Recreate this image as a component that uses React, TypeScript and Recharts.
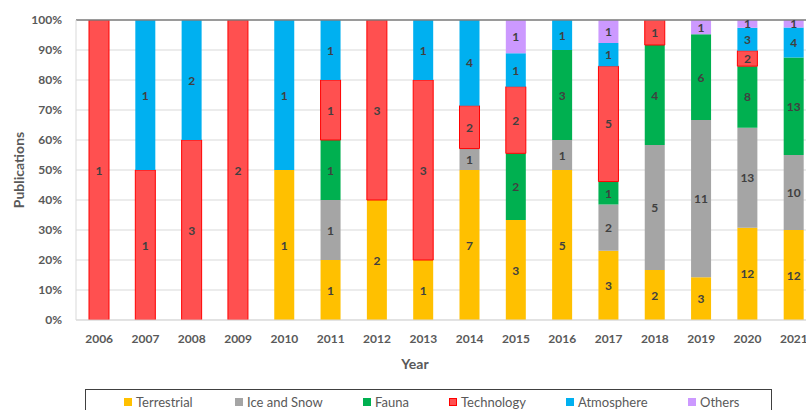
import React from "react";
import {
  BarChart,
  Bar,
  XAxis,
  YAxis,
  CartesianGrid,
  LabelList,
  ReferenceLine,
} from "recharts";

const YEARS = ["2006", "2007", "2008", "2009", "2010", "2011", "2012", "2013", "2014", "2015", "2016", "2017", "2018", "2019", "2020", "2021"];
const TERRESTRIAL = [0, 0, 0, 0, 1, 1, 2, 1, 7, 3, 5, 3, 2, 3, 12, 12];
const ICE_SNOW = [0, 0, 0, 0, 0, 1, 0, 0, 1, 0, 1, 2, 5, 11, 13, 10];
const FAUNA = [0, 0, 0, 0, 0, 1, 0, 0, 0, 2, 3, 1, 4, 6, 8, 13];
const TECHNOLOGY = [1, 1, 3, 2, 0, 1, 3, 3, 2, 2, 0, 5, 1, 0, 2, 0];
const ATMOSPHERE = [0, 1, 2, 0, 1, 1, 0, 1, 4, 1, 1, 1, 0, 0, 3, 4];
const OTHERS = [0, 0, 0, 0, 0, 0, 0, 0, 0, 1, 0, 1, 0, 1, 1, 1];
const Y_TICKS = [0, 0.1, 0.2, 0.3, 0.4, 0.5, 0.6, 0.7, 0.8, 0.9, 1];

const SERIES = [
  { key: "Terrestrial", values: TERRESTRIAL, fill: "#FFC000", stroke: "none" },
  { key: "Ice and Snow", values: ICE_SNOW, fill: "#A5A5A5", stroke: "none" },
  { key: "Fauna", values: FAUNA, fill: "#00B050", stroke: "none" },
  { key: "Technology", values: TECHNOLOGY, fill: "#FF5050", stroke: "#FF0000" },
  { key: "Atmosphere", values: ATMOSPHERE, fill: "#00B0F0", stroke: "none" },
  { key: "Others", values: OTHERS, fill: "#CC99FF", stroke: "none" },
];

const FONT = "Lato, 'Open Sans', sans-serif";

// shares for the 100% stack, raw counts kept for the labels
const rows = YEARS.map((year, i) => {
  const total = SERIES.reduce((s, ser) => s + ser.values[i], 0);
  const row: any = { year };
  SERIES.forEach((ser) => {
    row[ser.key] = total ? ser.values[i] / total : 0;
    row["n_" + ser.key] = ser.values[i];
  });
  return row;
});

const renderCount = (props: any) => {
  const { x, y, width, height, value } = props;
  if (!value) return null;
  return (
    <text
      x={x + width / 2}
      y={y + height / 2}
      textAnchor="middle"
      dominantBaseline="central"
      fill="#404040"
      fontSize={12}
      fontWeight="bold"
      fontFamily={FONT}
    >
      {value}
    </text>
  );
};

const LEGEND_POS = [124, 235, 363, 449, 566, 688];

export default function App() {
  return (
    <div
      style={{
        position: "fixed",
        left: 0,
        top: 0,
        width: 806,
        height: 410,
        overflow: "hidden",
        background: "#fff",
        fontFamily: FONT,
      }}
    >
      <BarChart
        width={830}
        height={410}
        data={rows}
        margin={{ top: 20, right: 13, left: 0, bottom: 0 }}
        barSize={20}
      >
        <CartesianGrid vertical={false} stroke="#D9D9D9" />
        <XAxis
          dataKey="year"
          height={90}
          tickLine={false}
          axisLine={{ stroke: "#D9D9D9" }}
          tickMargin={8}
          tick={{ fill: "#595959", fontSize: 12, fontWeight: "bold", fontFamily: FONT }}
          interval={0}
        />
        <YAxis
          width={76}
          domain={[0, 1]}
          ticks={Y_TICKS}
          tickFormatter={(v: number) => `${Math.round(v * 100)}%`}
          tickLine={false}
          axisLine={{ stroke: "#D9D9D9" }}
          tickMargin={8}
          tick={{ fill: "#595959", fontSize: 12, fontWeight: "bold", fontFamily: FONT }}
          allowDataOverflow
        />
        <ReferenceLine y={1} stroke="#7F7F7F" strokeWidth={1.5} />
        {SERIES.map((ser) => (
          <Bar
            key={ser.key}
            dataKey={ser.key}
            stackId="a"
            fill={ser.fill}
            stroke={ser.stroke}
            strokeWidth={1}
            isAnimationActive={false}
          >
            <LabelList dataKey={"n_" + ser.key} content={renderCount} />
          </Bar>
        ))}
        <text
          x={18}
          y={170}
          transform="rotate(-90 18 170)"
          textAnchor="middle"
          dominantBaseline="central"
          fill="#595959"
          fontSize={14}
          fontWeight="bold"
          fontFamily={FONT}
        >
          Publications
        </text>
        <text
          x={415}
          y={363}
          textAnchor="middle"
          dominantBaseline="central"
          fill="#595959"
          fontSize={14}
          fontWeight="bold"
          fontFamily={FONT}
        >
          Year
        </text>
      </BarChart>
      <div
        style={{
          position: "absolute",
          left: 85,
          top: 389,
          width: 687,
          height: 40,
          border: "1px solid #404040",
          boxSizing: "border-box",
        }}
      />
      {SERIES.map((ser, i) => (
        <div
          key={ser.key}
          style={{
            position: "absolute",
            left: LEGEND_POS[i],
            top: 394,
            height: 16,
            display: "flex",
            alignItems: "center",
            gap: 4,
            fontSize: 13,
            color: "#595959",
            whiteSpace: "nowrap",
          }}
        >
          <span
            style={{
              display: "inline-block",
              width: 8,
              height: 8,
              background: ser.fill,
              border: ser.stroke === "none" ? "none" : `1px solid ${ser.stroke}`,
              boxSizing: "border-box",
            }}
          />
          {ser.key}
        </div>
      ))}
    </div>
  );
}
